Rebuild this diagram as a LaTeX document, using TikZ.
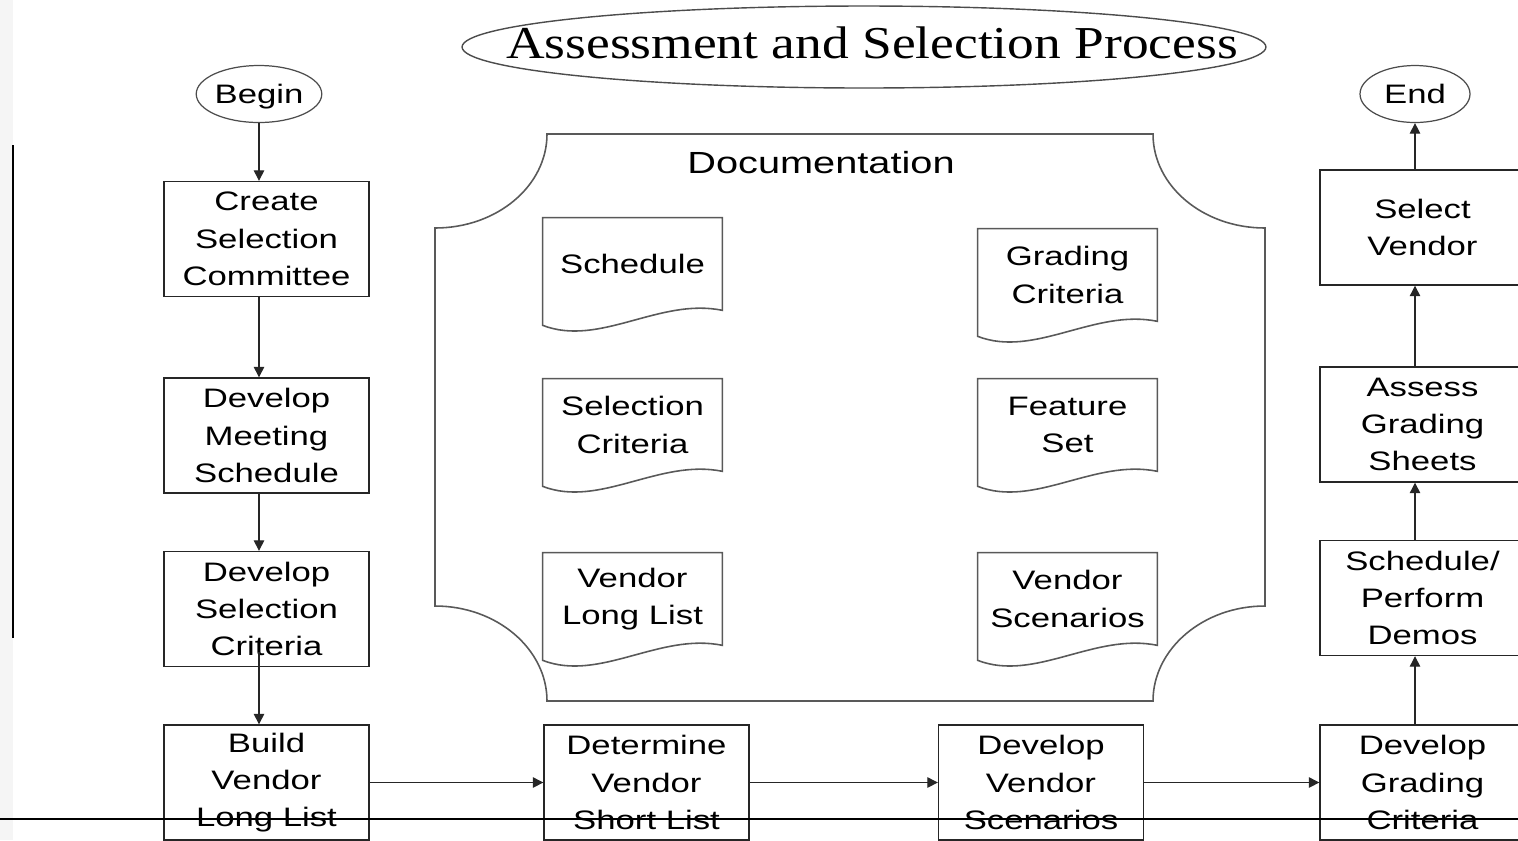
\documentclass[tikz,border=0pt]{standalone}
\usepackage{fontspec}
\newfontfamily\boxfont{Liberation Sans}[FakeStretch=1.3]
\newfontfamily\headfont{Liberation Serif}[FakeStretch=1.17]
\usetikzlibrary{shapes.geometric, arrows.meta, calc}

\tikzset{
  stepbox/.style={draw=black!85, line width=0.8pt, minimum width=4.1cm, minimum height=2.3cm,
                  inner sep=0pt, align=center, font=\boxfont\fontsize{15.2}{21.3}\selectfont},
  terminal/.style={ellipse, draw=black!70, line width=0.7pt, minimum width=2.2cm, minimum height=1.14cm,
                   inner sep=0pt, text depth=0pt, font=\boxfont\fontsize{15.2}{21.3}\selectfont},
  doc/.style={minimum width=3.58cm, minimum height=1.84cm, inner sep=0pt, align=center,
              font=\boxfont\fontsize{15.2}{21.3}\selectfont},
  docline/.style={draw=black!65, line width=0.9pt},
  flow/.style={draw=black!85, line width=0.7pt, -{Triangle[length=2.1mm,width=2.1mm]}},
}

% document sheet with a wavy lower edge: name, centre, text
\newcommand{\docsheet}[3]{%
  \node[doc] (#1) at (#2) {#3};
  \draw[docline] (#1.north west) -- (#1.north east) -- (#1.south east)
     .. controls ($(#1.south west)+(117,-13)$) and ($(#1.south west)+(57,37)$) .. ($(#1.south west)+(0,15)$)
     -- cycle;}

\begin{document}
\begin{tikzpicture}[x=0.02cm, y=-0.02cm] % one unit = one pixel, y down
  \useasboundingbox (0,0) rectangle (1518,840);
  \fill[black!4] (0,0) rectangle (13,840);
  \draw[line width=0.9pt] (13,145) -- (13,638);

  % heading
  \node[ellipse, draw=black!70, line width=0.8pt, minimum width=16.08cm, minimum height=1.64cm] (title) at (864,47) {};
  \node[font=\headfont\fontsize{26}{30}\selectfont, inner sep=0pt] (titletext) at (872,43) {Assessment and Selection Process};

  % left column
  \node[terminal] (begin) at (259,94) {Begin};
  \node[stepbox] (c1) at (266.5,239) {Create\\Selection\\Committee};
  \node[stepbox] (c2) at (266.5,435.5) {Develop\\Meeting\\Schedule};
  \node[stepbox] (c3) at (266.5,609) {Develop\\Selection\\Criteria};

  % bottom row
  \node[stepbox] (b1) at (266.5,782.5) {Build\\Vendor\\Long List};
  \node[stepbox] (b2) at (646.5,782.5) {Determine\\Vendor\\Short List};
  \node[stepbox] (b3) at (1041,782.5) {Develop\\Vendor\\Scenarios};
  \node[stepbox] (b4) at (1422.5,782.5) {Develop\\Grading\\Criteria};

  % right column
  \node[stepbox] (r1) at (1422.5,598) {Schedule/\\Perform\\Demos};
  \node[stepbox] (r2) at (1422.5,424.5) {Assess\\Grading\\Sheets};
  \node[stepbox] (r3) at (1422.5,227.5) {Select\\Vendor};
  \node[terminal] (end) at (1415,94) {End};

  % documentation frame with scooped corners
  \draw[docline] (435,228) .. controls (497,228) and (547,186) .. (547,134) -- (1153,134)
     .. controls (1153,186) and (1203,228) .. (1265,228) -- (1265,606)
     .. controls (1203,606) and (1153,649) .. (1153,701) -- (547,701)
     .. controls (547,649) and (497,606) .. (435,606) -- cycle;
  \node[font=\boxfont\fontsize{17.4}{21}\selectfont] (doctitle) at (821,163) {Documentation};

  \docsheet{dschedule}{632.5,264}{Schedule}
  \docsheet{dselection}{632.5,425}{Selection\\Criteria}
  \docsheet{dlonglist}{632.5,599}{Vendor\\Long List}
  \docsheet{dgrading}{1067.5,275}{Grading\\Criteria}
  \docsheet{dfeature}{1067.5,425}{Feature\\Set}
  \docsheet{dscenario}{1067.5,599}{Vendor\\Scenarios}

  % connectors
  \draw[flow] (begin) -- (begin |- c1.north);
  \draw[flow] (c1.south -| begin) -- (c2.north -| begin);
  \draw[flow] (c2.south -| begin) -- (c3.north -| begin);
  \draw[flow] ($(c3.south -| begin)+(0,-15)$) -- (b1.north -| begin);
  \draw[flow] (b1) -- (b2);
  \draw[flow] (b2) -- (b3);
  \draw[flow] (b3) -- (b4);
  \draw[flow] (b4.north -| end) -- (r1.south -| end);
  \draw[flow] (r1.north -| end) -- (r2.south -| end);
  \draw[flow] (r2.north -| end) -- (r3.south -| end);
  \draw[flow] (r3.north -| end) -- (end);

  \draw[line width=1.1pt] (0,819) -- (1518,819);
\end{tikzpicture}
\end{document}
